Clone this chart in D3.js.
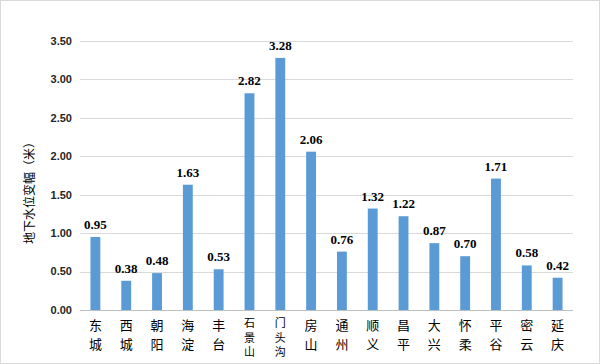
<!DOCTYPE html>
<html>
<head>
<meta charset="utf-8">
<script src="https://cdn.jsdelivr.net/npm/d3@7"></script>
<style>
  body { margin: 0; background: #fff; }
  svg { display: block; }
</style>
</head>
<body>
<div id="chart"></div>
<script>
var width = 600, height = 364;

// districts and change of groundwater level (m)
var districts = ["东城", "西城", "朝阳", "海淀", "丰台", "石景山", "门头沟", "房山", "通州",
                 "顺义", "昌平", "大兴", "怀柔", "平谷", "密云", "延庆"];
var values = [0.95, 0.38, 0.48, 1.63, 0.53, 2.82, 3.28, 2.06, 0.76, 1.32, 1.22, 0.87, 0.70, 1.71, 0.58, 0.42];
var yTicks = [0, 0.5, 1, 1.5, 2, 2.5, 3, 3.5];
var yTitle = "地下水位变幅（米）";

var plotLeft = 80, plotRight = 573, plotTop = 41, plotBottom = 310;

var svg = d3.select('#chart').append('svg')
    .attr('width', width)
    .attr('height', height);

// outer border
svg.append('rect')
    .attr('x', 0.5).attr('y', 0.5)
    .attr('width', width - 1).attr('height', height - 1)
    .attr('fill', 'none')
    .attr('stroke', '#d9d9d9');

var x = d3.scaleBand()
    .domain(districts)
    .range([plotLeft, plotRight])
    .paddingInner(0.68)
    .paddingOuter(0.34);

var y = d3.scaleLinear()
    .domain([0, 3.5])
    .range([plotBottom, plotTop]);

// gridlines
svg.append('g')
    .selectAll('line')
    .data(yTicks)
    .enter().append('line')
    .attr('x1', plotLeft).attr('x2', plotRight)
    .attr('y1', function(d) { return Math.round(y(d)) + 0.5; })
    .attr('y2', function(d) { return Math.round(y(d)) + 0.5; })
    .attr('stroke', function(d) { return d === 0 ? '#bfbfbf' : '#d9d9d9'; })
    .attr('stroke-width', 1);

// y tick labels
svg.append('g')
    .selectAll('text')
    .data(yTicks)
    .enter().append('text')
    .attr('x', plotLeft - 8)
    .attr('y', function(d) { return y(d); })
    .attr('dy', '0.35em')
    .attr('text-anchor', 'end')
    .attr('font-family', '"Liberation Sans", Arial, sans-serif')
    .attr('font-weight', 'bold')
    .attr('font-size', 11)
    .attr('fill', '#262626')
    .text(function(d) { return d3.format('.2f')(d); });

// bars
svg.append('g')
    .selectAll('rect')
    .data(values)
    .enter().append('rect')
    .attr('x', function(d, i) { return x(districts[i]); })
    .attr('y', function(d) { return y(d); })
    .attr('width', x.bandwidth())
    .attr('height', function(d) { return y(0) - y(d); })
    .attr('fill', '#5b9bd5');

// value labels
svg.append('g')
    .selectAll('text')
    .data(values)
    .enter().append('text')
    .attr('x', function(d, i) { return x(districts[i]) + x.bandwidth() / 2; })
    .attr('y', function(d) { return y(d) - 8; })
    .attr('text-anchor', 'middle')
    .attr('font-family', '"Liberation Serif", "Times New Roman", serif')
    .attr('font-weight', 'bold')
    .attr('font-size', 13)
    .attr('fill', '#000')
    .text(function(d) { return d3.format('.2f')(d); });

// category labels, one character per line
var cat = svg.append('g')
    .selectAll('text')
    .data(districts)
    .enter().append('text')
    .attr('x', function(d) { return x(d) + x.bandwidth() / 2; })
    .attr('y', function(d) { return d.length > 2 ? 327 : 330; })
    .attr('text-anchor', 'middle')
    .attr('font-family', '"Noto Sans CJK SC", sans-serif')
    .attr('font-size', function(d) { return d.length > 2 ? 11 : 13; })
    .attr('fill', '#000');

cat.each(function(d) {
    var t = d3.select(this);
    var cx = t.attr('x');
    var gap = d.length > 2 ? 14.5 : 19;
    t.selectAll('tspan')
        .data(d.split(''))
        .enter().append('tspan')
        .attr('x', cx)
        .attr('dy', function(c, i) { return i === 0 ? 0 : gap; })
        .text(function(c) { return c; });
});

// y axis title
svg.append('text')
    .attr('transform', 'translate(34,190) rotate(-90)')
    .attr('text-anchor', 'middle')
    .attr('font-family', '"Noto Sans CJK SC", sans-serif')
    .attr('font-size', 12)
    .attr('fill', '#000')
    .text(yTitle);
</script>
</body>
</html>
